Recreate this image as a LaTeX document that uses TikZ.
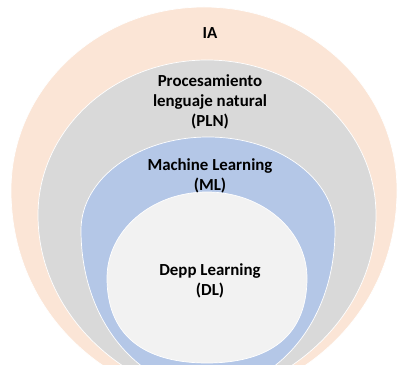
\documentclass[tikz,border=0pt]{standalone}
\usepackage{fontspec}
\setmainfont{Carlito}
\usepackage{xcolor}
\usetikzlibrary{positioning}

\definecolor{iacol}{HTML}{FBE5D6}
\definecolor{plncol}{HTML}{D9D9D9}
\definecolor{mlcol}{HTML}{B4C7E7}
\definecolor{dlcol}{HTML}{F2F2F2}

\tikzstyle{lbl} = [align=center, font=\fontsize{12}{14.2}\selectfont\bfseries, inner sep=0pt]
\tikzstyle{layer} = [draw=white, line width=0.5pt]

% egg shaped layer: fill, cx, top, widest y, half width, bottom, side pull, bottom pull
\newcommand{\layershape}[8]{%
  \filldraw[layer, fill=#1] ({#2-#5},{#4})
    .. controls ({#2-#5},{#4-0.552*(#4-#3)}) and ({#2-0.552*#5},{#3}) .. ({#2},{#3})
    .. controls ({#2+0.552*#5},{#3}) and ({#2+#5},{#4-0.552*(#4-#3)}) .. ({#2+#5},{#4})
    .. controls ({#2+#5},{#4+#7*(#6-#4)}) and ({#2+#8*#5},{#6}) .. ({#2},{#6})
    .. controls ({#2-#8*#5},{#6}) and ({#2-#5},{#4+#7*(#6-#4)}) .. cycle;}

\begin{document}
\begin{tikzpicture}[x=0.025cm, y=-0.025cm]
    \clip (0,0) rectangle (400,365);
    \useasboundingbox (0,0) rectangle (400,365);

    % Draw layers
    \layershape{iacol}{204}{7}{190}{193}{400}{0.65}{0.4}
    \layershape{plncol}{207}{60}{215}{169}{395}{0.6}{0.4}
    \layershape{mlcol}{208}{137}{230}{127}{390}{0.6}{0.5}
    \layershape{dlcol}{207}{192}{278}{100}{363}{0.75}{0.55}

    % Place nodes
    \node [lbl] (ia) at (210,33) {IA};
    \node [lbl] (pln) at (210,102) {Procesamiento\\lenguaje natural\\(PLN)};
    \node [lbl] (ml) at (210,176) {Machine Learning\\(ML)};
    \node [lbl] (dl) at (210,281) {Depp Learning\\(DL)};

\end{tikzpicture}
\end{document}
